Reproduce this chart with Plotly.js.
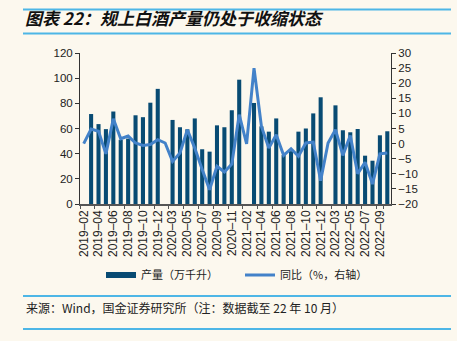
<!DOCTYPE html>
<html><head><meta charset="utf-8">
<script src="https://cdn.plot.ly/plotly-3.0.1.min.js"></script>
<style>html,body{margin:0;padding:0;background:#FCF8EE;}#chart{width:457px;height:341px;}</style>
</head><body><div id="chart"></div>
<script>
const categories = ["2019-02","2019-03","2019-04","2019-05","2019-06","2019-07","2019-08","2019-09","2019-10","2019-11","2019-12",
"2020-02","2020-03","2020-04","2020-05","2020-06","2020-07","2020-08","2020-09","2020-10","2020-11","2020-12",
"2021-02","2021-03","2021-04","2021-05","2021-06","2021-07","2021-08","2021-09","2021-10","2021-11","2021-12",
"2022-02","2022-03","2022-04","2022-05","2022-06","2022-07","2022-08","2022-09","2022-10"];
const output = [null,71.5,63.5,59.5,73.5,51,52,70.5,69,80.5,91.5,
null,66.8,61,59.4,68,43.5,41.6,62.5,61,74.5,98.8,
null,80.3,61.7,57.5,68,39,42,57.5,60,72,84.8,
null,78.4,58.6,57,59.6,38.4,34.4,54.6,57.8];
const yoy = [0,4.8,4.1,-3.4,8.2,1.6,2.5,0.2,-0.6,-0.3,1.3,
0.2,-5.9,-3.1,4.6,-1.5,-8.6,-15.3,-7.5,-9.4,-6.8,9.6,
-0.1,25,5.7,-1.5,2.9,-3.9,-1.7,-4.2,0.2,0.5,-12.3,
0.2,4.6,-3.9,2.7,-10,-6.2,-13.4,-3.4,-3.1];
const barName = "产量（万千升）";
const lineName = "同比（%，右轴）";
const titleText = "图表 22：规上白酒产量仍处于收缩状态";
const sourceText = "来源：Wind，国金证券研究所（注：数据截至 22 年 10 月）";

const barColor = "#084B73", lineColor = "#4382C9", ruleColor = "#4DB6E6";
const tickCats = categories.filter((c,i)=>i%2===0);
const tickText = tickCats.map(c=>c.replace("-","–"));

const traces = [
  {type:"bar", x:categories, y:output, name:barName, marker:{color:barColor}, showlegend:false, yaxis:"y"},
  {type:"scatter", mode:"lines", x:categories, y:yoy, name:lineName, line:{color:lineColor,width:3}, showlegend:false, yaxis:"y2"},
  {type:"scatter", mode:"lines", x:[null], y:[null], name:barName, line:{color:barColor,width:6}, yaxis:"y"},
  {type:"scatter", mode:"lines", x:[null], y:[null], name:lineName, line:{color:lineColor,width:3}, yaxis:"y2"}
];
const L=80, R=391, T=53, B=204;
const px = v => (v-L)/(R-L), py = v => (B-v)/(B-T);
const rule = y => ({type:"line", xref:"paper", yref:"paper", x0:px(23), x1:px(451), y0:py(y), y1:py(y), line:{color:ruleColor,width:2}});
const layout = {
  width:457, height:341,
  margin:{l:L, r:457-R, t:T, b:341-B},
  paper_bgcolor:"#FCF8EE", plot_bgcolor:"#FCF8EE",
  font:{family:"Liberation Sans, Arial, Noto Sans CJK SC", size:11, color:"#222"},
  bargap:0.45,
  title:{text:titleText, x:25/457, xanchor:"left", xref:"container", y:1-19/341, yanchor:"middle",
         font:{family:"Noto Sans CJK SC", size:17, color:"#111", style:"italic", weight:"bold"}},
  xaxis:{type:"category", categoryorder:"array", categoryarray:categories, tickmode:"array", tickvals:tickCats, ticktext:tickText,
         tickangle:-90, tickfont:{size:12, color:"#222"}, showline:true, linecolor:"#555", linewidth:1.5,
         ticks:"outside", ticklen:3, tickcolor:"#555", tickson:"boundaries", showgrid:false, zeroline:false, fixedrange:true},
  yaxis:{range:[0,120], dtick:20, showline:true, linecolor:"#333", linewidth:1, ticks:"outside", ticklen:4, tickcolor:"#333",
         showgrid:false, zeroline:false, tickfont:{size:11.5, color:"#222"}},
  yaxis2:{range:[-20,30], dtick:5, overlaying:"y", side:"right", showline:true, linecolor:"#333", linewidth:1, ticks:"outside",
          ticklen:4, tickcolor:"#333", showgrid:false, zeroline:false, tickfont:{size:11.5, color:"#222"}},
  legend:{orientation:"h", x:px(101), xanchor:"left", y:py(275), yanchor:"middle", bgcolor:"rgba(0,0,0,0)",
          font:{family:"Noto Sans CJK SC", size:11, color:"#222"}, itemwidth:30, traceorder:"normal", entrywidth:94, entrywidthmode:"pixels"},
  shapes:[rule(9.5), rule(33.5), rule(296), rule(329)],
  annotations:[{text:sourceText, xref:"paper", yref:"paper", x:px(24), xanchor:"left", y:py(307), yanchor:"middle", showarrow:false,
                font:{family:"Noto Sans CJK SC", size:12, color:"#222"}}]
};
Plotly.newPlot("chart", traces, layout, {displayModeBar:false, staticPlot:true});
</script></body></html>
